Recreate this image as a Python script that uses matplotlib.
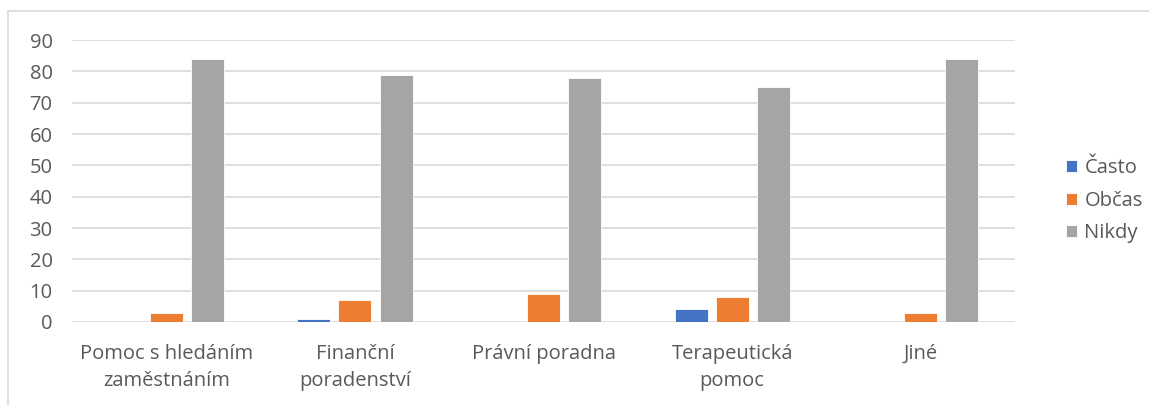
import matplotlib
matplotlib.use("Agg")
import matplotlib.pyplot as plt
from matplotlib.patches import Rectangle
import numpy as np

# data
categories = ["Pomoc s hledáním\nzaměstnáním", "Finanční\nporadenství",
              "Právní poradna", "Terapeutická\npomoc", "Jiné"]
series_names = ["Často", "Občas", "Nikdy"]
casto = [0, 1, 0, 4, 0]
obcas = [3, 7, 9, 8, 3]
nikdy = [84, 79, 78, 75, 84]
colors = ["#4472C4", "#ED7D31", "#A5A5A5"]

plt.rcParams['font.family'] = ['Open Sans', 'DejaVu Sans']
text_c = "#595959"
grid_c = "#D9D9D9"
fs = 14.5

fig = plt.figure(figsize=(11.49, 4.05), dpi=100, facecolor="w")
ax = fig.add_axes([0.0627, 0.205, 0.8207, 0.696])

# chart border
fig.patches.append(Rectangle((8 / 1149, -0.1), 1.2, 1.1 - 11 / 405,
                             transform=fig.transFigure, fill=False,
                             edgecolor=grid_c, linewidth=1.2))

x = np.arange(len(categories))
width = 0.175
step = 0.218
for i, (name, vals) in enumerate(zip(series_names, [casto, obcas, nikdy])):
    ax.bar(x + (i - 1) * step, vals, width, color=colors[i], label=name,
           edgecolor="white", linewidth=0.6, zorder=3)

ax.set_xlim(-0.5, len(categories) - 0.5)
ax.set_ylim(0, 90)
ax.set_yticks(range(0, 91, 10))
ax.grid(axis='y', color=grid_c, linewidth=1.2, zorder=0)
for s in ax.spines.values():
    s.set_visible(False)
ax.tick_params(axis='y', length=0, pad=14, labelsize=fs, labelcolor=text_c)
ax.tick_params(axis='x', length=0, pad=15.5, labelsize=fs, labelcolor=text_c)
ax.set_xticks(x)
ax.set_xticklabels(categories, linespacing=1.5)

leg = ax.legend(loc='center left', bbox_to_anchor=(1.035, 0.43), frameon=False,
                fontsize=fs, labelcolor=text_c, handlelength=0.55,
                handleheight=0.55, handletextpad=0.35, labelspacing=0.62)

plt.savefig("out.png", dpi=100, facecolor="w")
